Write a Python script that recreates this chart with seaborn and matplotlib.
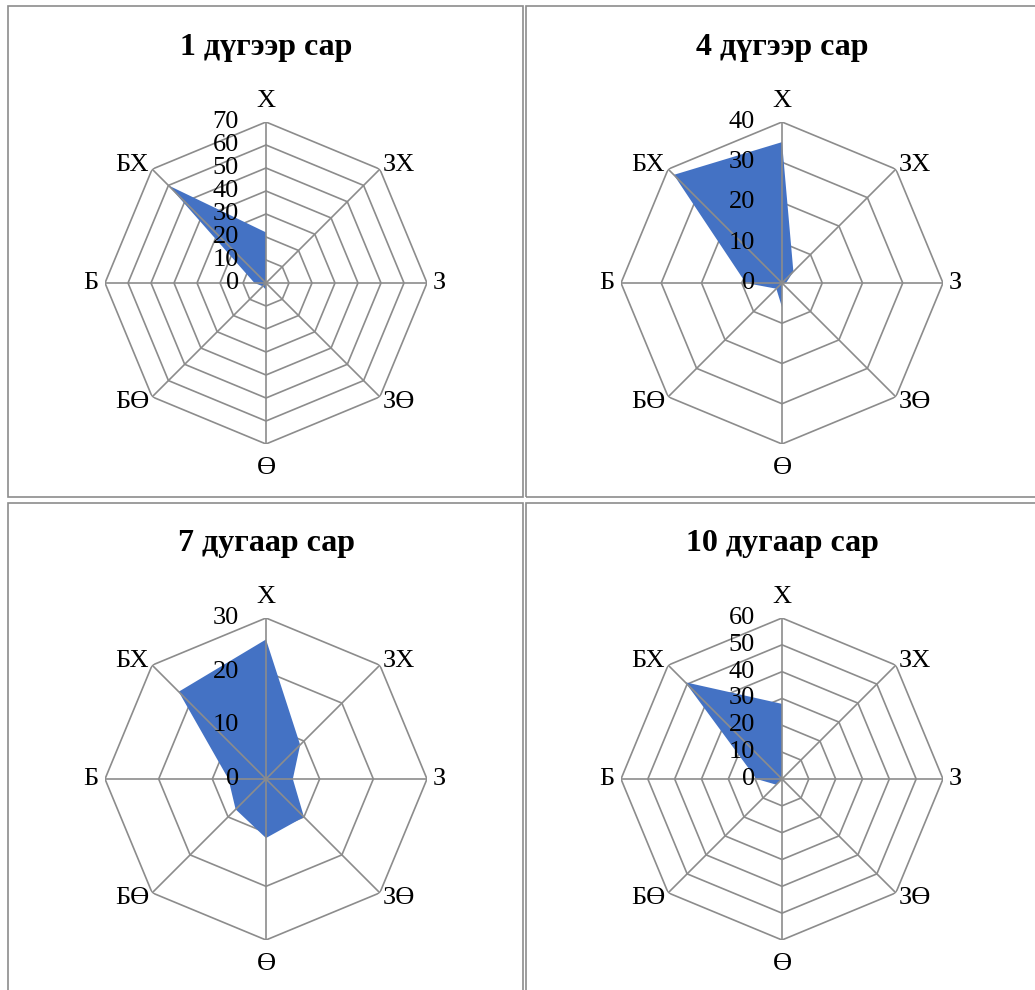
import numpy as np
import seaborn as sns
import matplotlib.pyplot as plt
from matplotlib.patches import Rectangle

# wind direction frequency per month (%)
directions = ["Х", "ЗХ", "З", "ЗӨ", "Ө", "БӨ", "Б", "БХ"]
months = ["1 дүгээр сар", "4 дүгээр сар", "7 дугаар сар", "10 дугаар сар"]
jan = [22, 0, 0, 0, 3, 2, 5, 60]
apr = [35, 4, 1, 0, 6, 2, 9, 38]
jul = [26, 9, 5, 10, 11, 8, 7, 23]
octo = [28, 0, 0, 0, 0, 3, 9.5, 51]
axis_max = [70, 40, 30, 60]

sns.set_theme(style="white")
plt.rcParams['font.family'] = ['Liberation Serif', 'DejaVu Serif']

W, H = 1035, 990
fig = plt.figure(figsize=(W / 100, H / 100), dpi=100)

grid_col = '#8c8c8c'
fill_col = '#4472C4'
R = 161
centers = [(266, 283), (782, 283), (266, 779), (782, 779)]
title_y = [47, 47, 543, 543]

# panel borders
for x0, y0, x1, y1 in [(8, 6, 523, 497), (526, 6, 1040, 497),
                       (8, 503, 523, 995), (526, 503, 1040, 995)]:
    fig.add_artist(Rectangle((x0 / W, 1 - y1 / H), (x1 - x0) / W, (y1 - y0) / H,
                             transform=fig.transFigure, fill=False,
                             edgecolor=grid_col, lw=1.2))

angles = np.deg2rad(np.arange(0, 360, 45))
ang_closed = np.append(angles, angles[0])

# label offsets in pixels for each direction
lab_off = [(0, 10, 'center', 'bottom'), (3, 4, 'left', 'center'),
           (6, 0, 'left', 'center'), (3, -5, 'left', 'center'),
           (0, -13, 'center', 'top'), (-3, -5, 'right', 'center'),
           (-7, 0, 'right', 'center'), (-3, 4, 'right', 'center')]

for i, vals in enumerate([jan, apr, jul, octo]):
    cx, cy = centers[i]
    mx = axis_max[i]
    ax = fig.add_axes([(cx - R) / W, 1 - (cy + R) / H, 2 * R / W, 2 * R / H],
                      projection='polar')
    ax.set_theta_zero_location('N')
    ax.set_theta_direction(-1)
    ax.set_ylim(0, mx)
    ax.grid(False)
    ax.set_xticks([])
    ax.set_yticks([])
    ax.spines['polar'].set_visible(False)
    ax.patch.set_alpha(0)

    ticks = np.arange(0, mx + 1, 10)
    for t in ticks[1:]:
        ax.plot(ang_closed, [t] * len(ang_closed), color=grid_col, lw=1.2, zorder=1)

    v = np.append(vals, vals[0])
    ax.fill(ang_closed, v, color=fill_col, lw=0, zorder=2)

    for a in angles:
        ax.plot([a, a], [0, mx], color=grid_col, lw=1.2, zorder=3)

    for t in ticks:
        ax.annotate(str(int(t)), xy=(0, t), xytext=(-27, 0), textcoords='offset pixels',
                    ha='right', va='center', fontsize=19, color='black',
                    annotation_clip=False)

    for a, d, (dx, dy, ha, va) in zip(angles, directions, lab_off):
        ax.annotate(d, xy=(a, mx), xytext=(dx, dy), textcoords='offset pixels',
                    ha=ha, va=va, fontsize=19, color='black', annotation_clip=False)

    fig.text(cx / W, 1 - title_y[i] / H, months[i], ha='center', va='center',
             fontsize=23, fontweight='bold', color='black')

fig.savefig('out.png', dpi=100)
